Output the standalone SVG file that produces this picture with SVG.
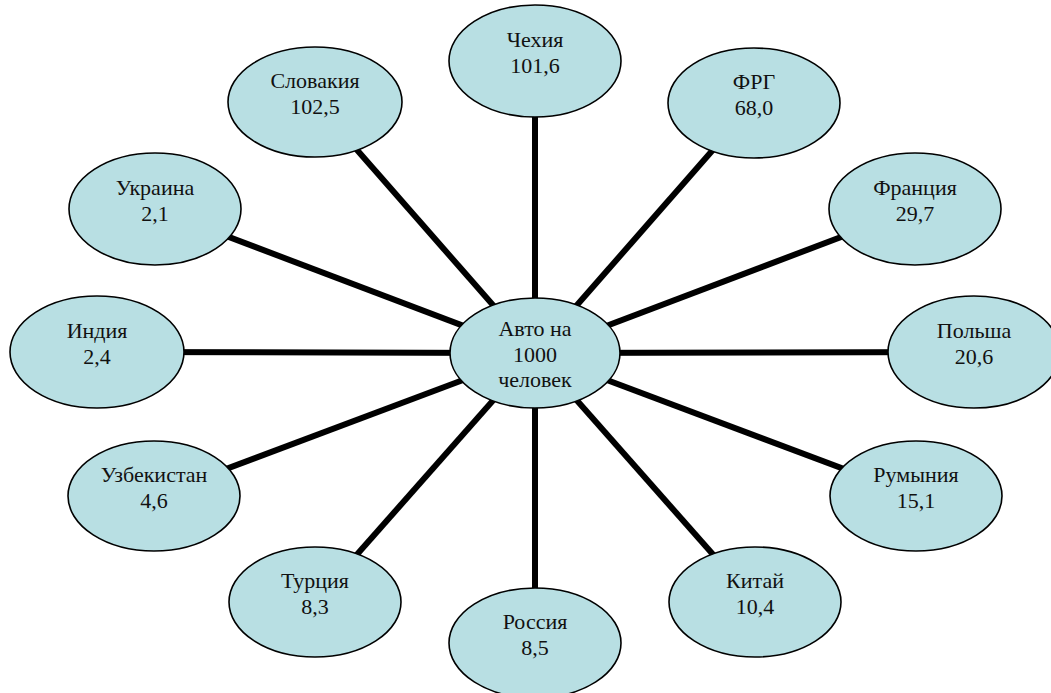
<svg xmlns="http://www.w3.org/2000/svg" width="1051" height="693" viewBox="0 0 1051 693">
  <style>
    .spoke { stroke: #000; stroke-width: 6; stroke-linecap: butt; }
    .bubble { fill: #b8dfe3; stroke: #000; stroke-width: 1.6; }
    .label { font-family: "Liberation Serif", "Times New Roman", serif; font-size: 22px; fill: #111; text-anchor: middle; }
  </style>
  <rect width="1051" height="693" fill="#fff"/>

  <!-- spokes from the hub to each country -->
  <g id="connectors">
    <line class="spoke" x1="535" y1="353" x2="535" y2="61"/>
    <line class="spoke" x1="535" y1="353" x2="754" y2="103"/>
    <line class="spoke" x1="535" y1="353" x2="915" y2="209"/>
    <line class="spoke" x1="535" y1="353" x2="974" y2="352"/>
    <line class="spoke" x1="535" y1="353" x2="916" y2="496"/>
    <line class="spoke" x1="535" y1="353" x2="755" y2="602"/>
    <line class="spoke" x1="535" y1="353" x2="535" y2="643"/>
    <line class="spoke" x1="535" y1="353" x2="315" y2="602"/>
    <line class="spoke" x1="535" y1="353" x2="154" y2="496"/>
    <line class="spoke" x1="535" y1="353" x2="97" y2="352"/>
    <line class="spoke" x1="535" y1="353" x2="155" y2="209"/>
    <line class="spoke" x1="535" y1="353" x2="315" y2="102"/>
  </g>

  <g id="hub">
    <ellipse class="bubble" cx="535" cy="353" rx="85" ry="55"/>
    <text class="label" x="535" y="336">Авто на</text>
    <text class="label" x="535" y="362">1000</text>
    <text class="label" x="535" y="387">человек</text>
  </g>

  <g id="czech">
    <ellipse class="bubble" cx="535" cy="61" rx="86" ry="56"/>
    <text class="label" x="535" y="47">Чехия</text>
    <text class="label" x="535" y="73">101,6</text>
  </g>

  <g id="frg">
    <ellipse class="bubble" cx="754" cy="103" rx="86" ry="55"/>
    <text class="label" x="754" y="89">ФРГ</text>
    <text class="label" x="754" y="115">68,0</text>
  </g>

  <g id="france">
    <ellipse class="bubble" cx="915" cy="209" rx="86" ry="56"/>
    <text class="label" x="915" y="195">Франция</text>
    <text class="label" x="915" y="221">29,7</text>
  </g>

  <g id="poland">
    <ellipse class="bubble" cx="974" cy="352" rx="86" ry="56"/>
    <text class="label" x="974" y="338">Польша</text>
    <text class="label" x="974" y="364">20,6</text>
  </g>

  <g id="romania">
    <ellipse class="bubble" cx="916" cy="496" rx="86" ry="55"/>
    <text class="label" x="916" y="482">Румыния</text>
    <text class="label" x="916" y="508">15,1</text>
  </g>

  <g id="china">
    <ellipse class="bubble" cx="755" cy="602" rx="86" ry="55"/>
    <text class="label" x="755" y="588">Китай</text>
    <text class="label" x="755" y="614">10,4</text>
  </g>

  <g id="russia">
    <ellipse class="bubble" cx="535" cy="643" rx="86" ry="55"/>
    <text class="label" x="535" y="629">Россия</text>
    <text class="label" x="535" y="655">8,5</text>
  </g>

  <g id="turkey">
    <ellipse class="bubble" cx="315" cy="602" rx="86" ry="55"/>
    <text class="label" x="315" y="588">Турция</text>
    <text class="label" x="315" y="614">8,3</text>
  </g>

  <g id="uzbekistan">
    <ellipse class="bubble" cx="154" cy="496" rx="86" ry="55"/>
    <text class="label" x="154" y="482">Узбекистан</text>
    <text class="label" x="154" y="508">4,6</text>
  </g>

  <g id="india">
    <ellipse class="bubble" cx="97" cy="352" rx="87" ry="56"/>
    <text class="label" x="97" y="338">Индия</text>
    <text class="label" x="97" y="364">2,4</text>
  </g>

  <g id="ukraine">
    <ellipse class="bubble" cx="155" cy="209" rx="86" ry="56"/>
    <text class="label" x="155" y="195">Украина</text>
    <text class="label" x="155" y="221">2,1</text>
  </g>

  <g id="slovakia">
    <ellipse class="bubble" cx="315" cy="102" rx="87" ry="55"/>
    <text class="label" x="315" y="88">Словакия</text>
    <text class="label" x="315" y="114">102,5</text>
  </g>
</svg>
